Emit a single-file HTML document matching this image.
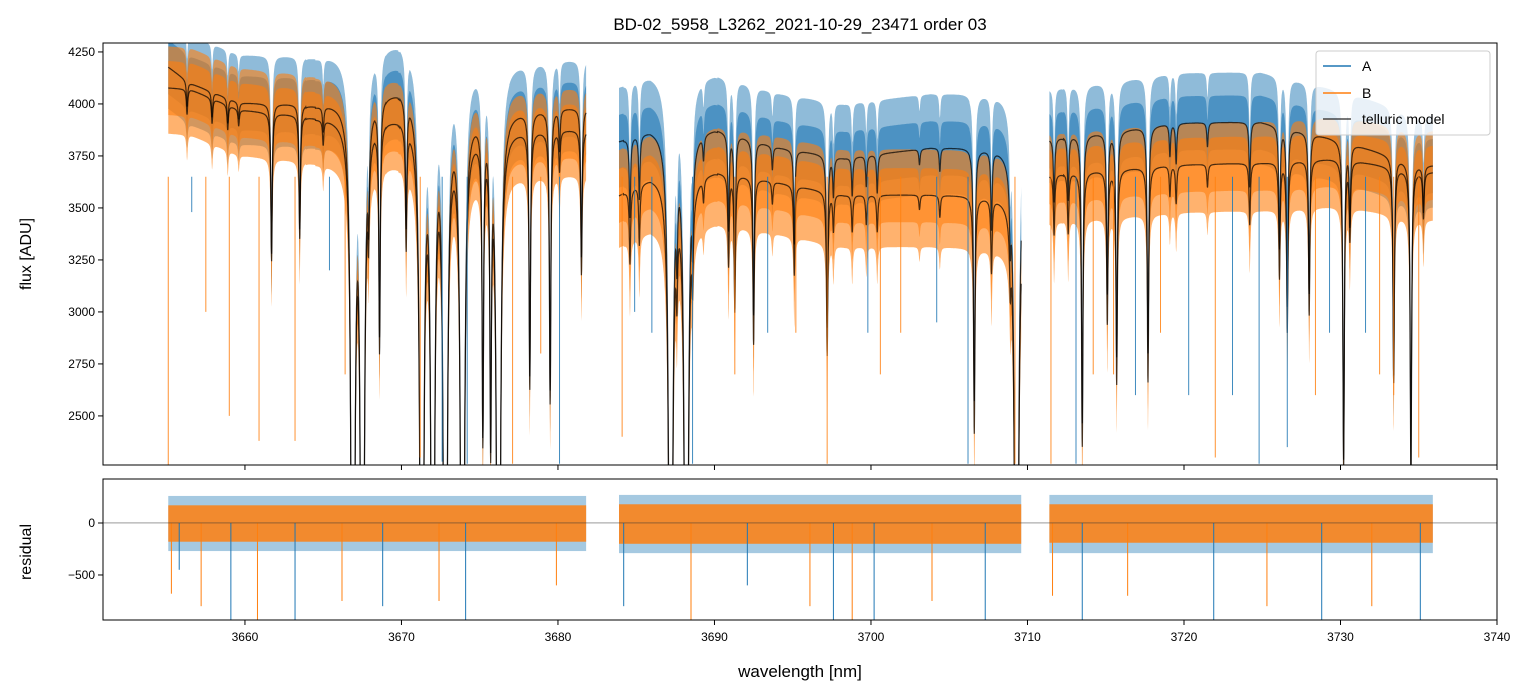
<!DOCTYPE html>
<html><head><meta charset="utf-8"><style>
html,body{margin:0;padding:0;background:#fff;width:1533px;height:696px;overflow:hidden;font-size:0;line-height:0}
svg{display:block;overflow:hidden;font-family:"Liberation Sans","DejaVu Sans",sans-serif}
</style></head><body><svg id="c" width="1533" height="696">
<defs>
<clipPath id="clipTop"><rect x="103" y="43" width="1394" height="422"/></clipPath>
<clipPath id="clipBot"><rect x="103" y="479" width="1394" height="141"/></clipPath>
</defs>
<rect width="1533" height="696" fill="#fff"/>
<text x="800" y="30" text-anchor="middle" font-size="17">BD-02_5958_L3262_2021-10-29_23471  order 03</text>
<g id="gtop" clip-path="url(#clipTop)"></g>
<g id="gbot" clip-path="url(#clipBot)"></g>
<rect x="103" y="43" width="1394" height="422" fill="none" stroke="#000" stroke-width="1"/>
<rect x="103" y="479" width="1394" height="141" fill="none" stroke="#000" stroke-width="1"/>
<g id="axes"></g>
<text x="31" y="254" transform="rotate(-90 31 254)" text-anchor="middle" font-size="16">flux [ADU]</text>
<text x="31" y="552" transform="rotate(-90 31 552)" text-anchor="middle" font-size="16">residual</text>
<text x="800" y="677" text-anchor="middle" font-size="17">wavelength [nm]</text>
<g>
<rect x="1316" y="51" width="174" height="84" rx="3" fill="#fff" fill-opacity="0.8" stroke="#ccc"/>
<line x1="1323" y1="66" x2="1351" y2="66" stroke="#1f77b4" stroke-width="1.5"/>
<text x="1362" y="71" font-size="14">A</text>
<line x1="1323" y1="93" x2="1351" y2="93" stroke="#ff7f0e" stroke-width="1.5"/>
<text x="1362" y="98" font-size="14">B</text>
<line x1="1323" y1="119" x2="1351" y2="119" stroke="#000" stroke-opacity="0.7" stroke-width="1.5"/>
<text x="1362" y="124" font-size="14">telluric model</text>
</g>
</svg><script>
// ---- data ----
const segStart = [3655.1, 3683.9, 3711.4];
const segEnd   = [3681.8, 3709.6, 3735.9];
const contWl = [[3655.08,3656.49,3659.68,3664.48,3669.91,3675.34,3680.13,3681.8],
                [3683.9,3685.9,3690.0,3693.9,3698.3,3703.8,3708.2,3709.6],
                [3711.4,3714.6,3719.4,3724.9,3730.0,3735.1,3736.0]];
const contA  = [[4178,4100,4005,3995,4081,3956,3980,3980],
                [3820,3889,3889,3793,3740,3788,3788,3788],
                [3841,3860,3908,3913,3827,3706,3706]];
const contB  = [[4077,4070,3971,3937,3947,3875,3875,3875],
                [3560,3658,3682,3625,3562,3562,3553,3553],
                [3668,3680,3706,3716,3740,3673,3673]];
const lineCenters = [3656.3,3657.9,3658.9,3659.6,3661.7,3663.5,3665.0,3666.9,3667.5,3667.9,3668.6,3670.3,3671.3,3672.0,3672.8,3673.9,3675.2,3675.7,3676.2,3678.2,3679.5,3680.1,3681.5,
 3684.6,3685.2,3687.2,3687.6,3688.2,3688.6,3689.3,3690.9,3691.3,3692.5,3693.7,3695.1,3697.2,3697.6,3698.8,3699.7,3700.4,3703.1,3704.4,3706.6,3707.7,3708.9,3709.3,
 3711.7,3712.6,3713.5,3715.1,3715.7,3717.7,3719.1,3719.5,3721.5,3724.2,3726.1,3726.6,3728.0,3730.2,3730.6,3733.4,3734.5,3735.3];
const lineMinT = [0.97,0.97,0.97,0.98,0.82,0.85,0.97,0.01,0.01,0.9,0.72,0.85,0.01,0.02,0.01,0.01,0.62,0.62,0.01,0.68,0.66,0.95,0.82,
 0.9,0.92,0.01,0.9,0.01,0.9,0.97,0.88,0.82,0.78,0.97,0.88,0.78,0.95,0.95,0.96,0.95,0.98,0.97,0.68,0.9,0.92,0.01,
 0.92,0.92,0.64,0.8,0.72,0.72,0.96,0.95,0.97,0.92,0.85,0.78,0.8,0.6,0.9,0.72,0.6,0.94];
const bandAUp = [230, 260, 240];
const bandALo = [200, 220, 200];
const bandBUp = [200, 220, 200];
const bandBLo = [220, 250, 230];
const coreHalf = 130;
const spikeWl = [3655.1,3656.6,3657.5,3659.0,3660.9,3663.2,3665.4,3666.4,3671.2,3672.6,3674.2,3677.1,3678.9,3680.1,3684.1,3684.9,3686.0,3688.6,3691.3,3693.4,3695.2,3697.2,3699.8,3700.6,3701.9,3704.2,3706.2,3709.2,3711.5,3713.1,3714.2,3715.5,3716.9,3718.5,3720.3,3722.0,3723.1,3724.8,3726.6,3728.4,3729.3,3731.6,3732.5,3733.4,3735.0];
const spikeVal = [2264,3480,3000,2500,2380,2380,3200,2700,2300,2280,2270,2270,2800,2270,2400,3000,2900,2270,2700,2900,2900,2270,2900,2700,2900,2950,2270,2270,2270,2270,2700,2700,2600,2900,2600,2300,2600,2270,2350,2600,2900,2900,2700,2600,2300];
const spikeSeries = [1,0,1,1,1,1,0,1,1,0,0,1,1,0,1,0,0,0,1,0,1,1,0,1,1,0,0,1,1,0,1,1,0,1,0,1,0,0,0,1,0,0,1,1,1];
const resBandUp = [260, 270, 270];
const resBandLo = [270, 290, 290];
const resCoreUp = [170, 180, 180];
const resCoreLo = [180, 200, 190];
const resSpikeWl = [3655.3,3655.8,3657.2,3659.1,3660.8,3663.2,3666.2,3668.8,3672.4,3674.1,3679.9,3684.2,3688.5,3692.1,3696.1,3697.6,3698.8,3700.2,3703.9,3707.3,3711.6,3713.5,3716.4,3721.9,3725.3,3728.8,3732.0,3735.1];
const resSpikeVal = [-680,-450,-800,-930,-930,-930,-750,-800,-750,-930,-600,-800,-930,-600,-800,-930,-930,-930,-750,-930,-700,-930,-700,-930,-800,-930,-800,-930];

// ---- axes ----
const X0=103,X1=1497,WMIN=3650.93,WMAX=3740;
const sx=w=>X0+(w-WMIN)/(WMAX-WMIN)*(X1-X0);
const TY0=43,TY1=465,FMAX=4293,FMIN=2264;
const sy=f=>TY0+(FMAX-f)/(FMAX-FMIN)*(TY1-TY0);
const BY0=479,BY1=620,RMAX=423,RMIN=-933;
const ry=r=>BY0+(RMAX-r)/(RMAX-RMIN)*(BY1-BY0);
const NS='http://www.w3.org/2000/svg';
function mk(tag,parent,attrs){const e=document.createElementNS(NS,tag);for(const k in attrs)e.setAttribute(k,attrs[k]);parent.appendChild(e);return e;}
const gTop=document.getElementById('gtop'),gBot=document.getElementById('gbot'),axes=document.getElementById('axes');

const GAM=0.05;
function trans(w){let t=0;for(let i=0;i<lineCenters.length;i++){const d=(w-lineCenters[i])/GAM;if(Math.abs(d)<60)t+=-Math.log(lineMinT[i])/(1+d*d);}return Math.exp(-t);}
function cont(s,arr,w){const k=contWl[s];if(w<=k[0])return arr[s][0];for(let i=1;i<k.length;i++){if(w<=k[i]){const f=(w-k[i-1])/(k[i]-k[i-1]);return arr[s][i-1]+(arr[s][i]-arr[s][i-1])*f;}}return arr[s][k.length-1];}

for(let s=0;s<segStart.length;s++){
  const ws=[],mA=[],mB=[];
  for(let w=segStart[s];w<=segEnd[s]+1e-9;w+=0.01){
    const tr=trans(w);
    ws.push(w);
    mA.push(cont(s,contA,w)*tr);
    mB.push(cont(s,contB,w)*tr);
  }
  const band=(m,up,lo)=>{let p='';for(let i=0;i<ws.length;i++)p+=(i?'L':'M')+sx(ws[i]).toFixed(1)+','+sy(m[i]+up).toFixed(1);
    for(let i=ws.length-1;i>=0;i--)p+='L'+sx(ws[i]).toFixed(1)+','+sy(m[i]-lo).toFixed(1);return p+'Z';};
  const ba=mk('path',gTop,{d:band(mA,bandAUp[s],bandALo[s]),fill:'#1f77b4','fill-opacity':0.5});
  
  
  const bac=mk('path',gTop,{d:band(mA,coreHalf,coreHalf),fill:'#1f77b4','fill-opacity':0.6});
  
  
  const bb=mk('path',gTop,{d:band(mB,bandBUp[s],bandBLo[s]),fill:'#ff7f0e','fill-opacity':0.6});
  
  
  const bbc=mk('path',gTop,{d:band(mB,coreHalf,coreHalf),fill:'#ff7f0e','fill-opacity':0.6});
  
  
  const line=m=>{let p='';for(let i=0;i<ws.length;i++)p+=(i?'L':'M')+sx(ws[i]).toFixed(1)+','+sy(Math.max(m[i],1500)).toFixed(1);return p;};
  const la=mk('path',gTop,{d:line(mA),fill:'none',stroke:'#000','stroke-opacity':0.7,'stroke-width':1.2});
  
  
  const lb=mk('path',gTop,{d:line(mB),fill:'none',stroke:'#000','stroke-opacity':0.7,'stroke-width':1.2});
  
  
  const x0=sx(segStart[s]),wd=sx(segEnd[s])-sx(segStart[s]);
  const rb=mk('rect',gBot,{x:x0,y:ry(resBandUp[s]),width:wd,height:ry(-resBandLo[s])-ry(resBandUp[s]),fill:'#1f77b4','fill-opacity':0.4});
  
  
  const rb2=mk('rect',gBot,{x:x0,y:ry(resCoreUp[s]),width:wd,height:ry(-resCoreLo[s])-ry(resCoreUp[s]),fill:'#ff7f0e','fill-opacity':0.85});
  
  
}
for(let i=0;i<spikeWl.length;i++){
  const w=spikeWl[i];
  const e=mk('line',gTop,{x1:sx(w),x2:sx(w),y1:sy(3650),y2:sy(spikeVal[i]),stroke:spikeSeries[i]?'#ff7f0e':'#1f77b4','stroke-width':1,'stroke-opacity':0.85});
  
  
}
for(let i=0;i<resSpikeWl.length;i++){
  const e=mk('line',gBot,{x1:sx(resSpikeWl[i]),x2:sx(resSpikeWl[i]),y1:ry(0),y2:ry(resSpikeVal[i]),stroke:i%2?'#1f77b4':'#ff7f0e','stroke-width':1});
  
  
}
const z=mk('line',gBot,{x1:X0,x2:X1,y1:ry(0),y2:ry(0),stroke:'#333','stroke-width':0.6,'stroke-opacity':0.8});



const xTicks=[3660,3670,3680,3690,3700,3710,3720,3730,3740];
const yTicks=[2500,2750,3000,3250,3500,3750,4000,4250];
const rTicks=[-500,0];
xTicks.forEach(t=>{const x=sx(t);
  mk('line',axes,{x1:x,x2:x,y1:465,y2:470,stroke:'#000'});
  mk('line',axes,{x1:x,x2:x,y1:620,y2:625,stroke:'#000'});
  const tx=mk('text',axes,{x:x,y:641,'text-anchor':'middle','font-size':12});tx.textContent=t;
  
  
});
yTicks.forEach(t=>{const y=sy(t);
  mk('line',axes,{x1:98,x2:103,y1:y,y2:y,stroke:'#000'});
  const tx=mk('text',axes,{x:95,y:y+4,'text-anchor':'end','font-size':12});tx.textContent=t;
  
  
});
rTicks.forEach(t=>{const y=ry(t);
  mk('line',axes,{x1:98,x2:103,y1:y,y2:y,stroke:'#000'});
  const tx=mk('text',axes,{x:95,y:y+4,'text-anchor':'end','font-size':12});tx.textContent=t===0?'0':'\u2212'+Math.abs(t);
  
  
});
</script></body></html>
